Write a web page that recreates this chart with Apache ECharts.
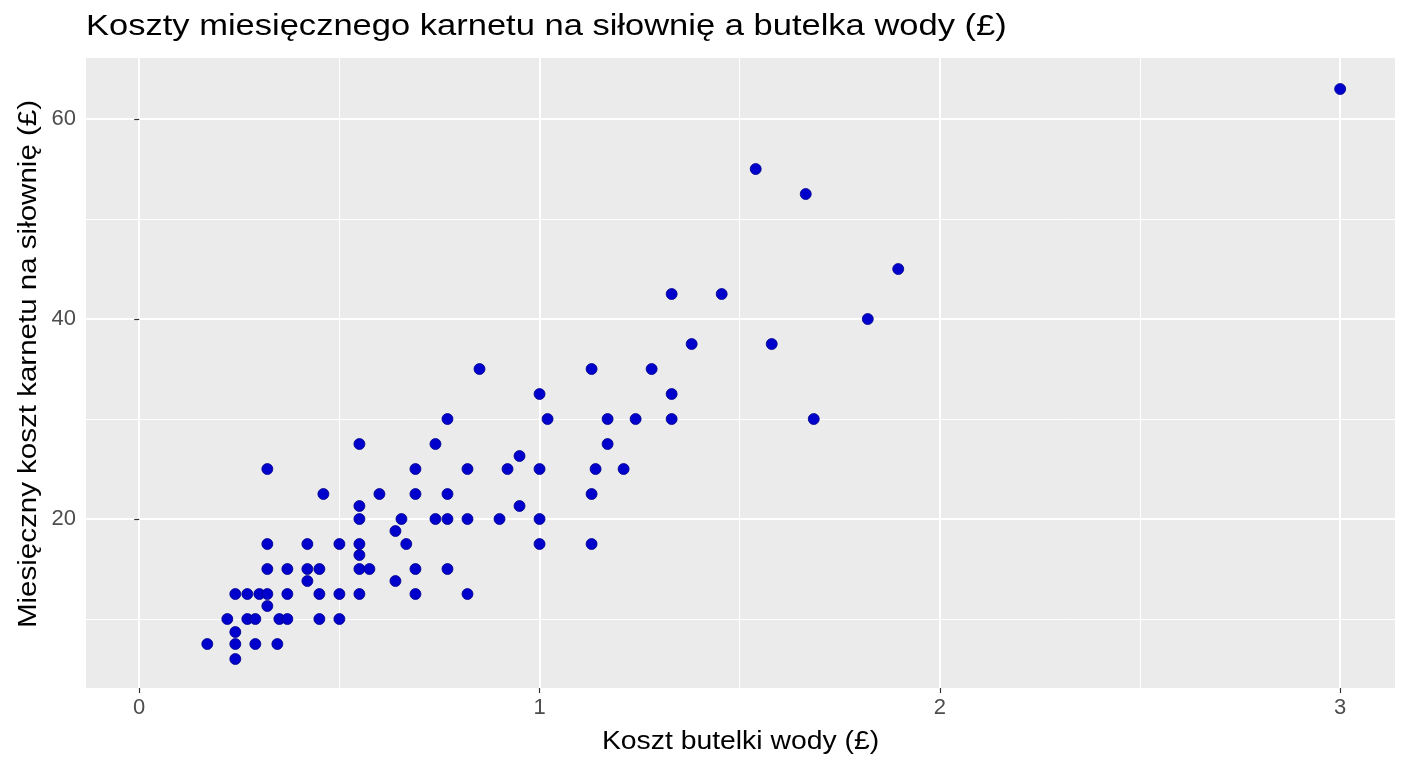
<!DOCTYPE html>
<html>
<head>
<meta charset="utf-8">
<script src="https://cdn.jsdelivr.net/npm/echarts@6/dist/echarts.min.js"></script>
<style>html,body{margin:0;padding:0;background:#fff;}#c{width:1408px;height:768px;}</style>
</head>
<body>
<div id="c"></div>
<script>
const titleText = 'Koszty miesięcznego karnetu na siłownię a butelka wody (£)';
const xName = 'Koszt butelki wody (£)';
const yName = 'Miesięczny koszt karnetu na siłownię (£)';
const xMajorTicks = [0, 1, 2, 3];
const xMinorTicks = [0.5, 1.5, 2.5];
const yMajorTicks = [20, 40, 60];
const yMinorTicks = [10, 30, 50];
const bottleCost = [
  0.17, 0.22, 0.24, 0.24, 0.24, 0.24, 0.27, 0.27, 0.30, 0.29,
  0.29, 0.32, 0.32, 0.32, 0.32, 0.32, 0.35, 0.345, 0.37, 0.37,
  0.37, 0.42, 0.42, 0.42, 0.45, 0.45, 0.45, 0.46, 0.50, 0.50,
  0.50, 0.55, 0.55, 0.55, 0.55, 0.55, 0.55, 0.55, 0.575, 0.60,
  0.64, 0.64, 0.655, 0.667, 0.69, 0.69, 0.69, 0.69, 0.74, 0.74,
  0.77, 0.77, 0.77, 0.77, 0.82, 0.82, 0.82, 0.85, 0.90, 0.92,
  0.95, 0.95, 1.00, 1.00, 1.00, 1.00, 1.02, 1.13, 1.13, 1.13,
  1.14, 1.17, 1.17, 1.21, 1.24, 1.28, 1.33, 1.33, 1.33, 1.38,
  1.455, 1.54, 1.58, 1.665, 1.685, 1.82, 1.896, 3.00
];
const gymCost = [
  7.5, 10, 12.5, 8.7, 7.5, 6.0, 12.5, 10, 12.5, 10,
  7.5, 12.5, 11.3, 15, 17.5, 25, 10, 7.5, 15, 12.5,
  10, 17.5, 15, 13.8, 15, 12.5, 10, 22.5, 17.5, 12.5,
  10, 27.5, 21.3, 20, 17.5, 16.4, 15, 12.5, 15, 22.5,
  18.8, 13.8, 20, 17.5, 25, 22.5, 15, 12.5, 27.5, 20,
  30, 22.5, 20, 15, 25, 20, 12.5, 35, 20, 25,
  26.3, 21.3, 32.5, 25, 20, 17.5, 30, 35, 22.5, 17.5,
  25, 30, 27.5, 25, 30, 35, 42.5, 32.5, 30, 37.5,
  42.5, 55, 37.5, 52.5, 30, 40, 45, 63
];
const points = bottleCost.map((x, i) => [x, gymCost[i]]);

const FONT = '"Liberation Sans", Arial, Helvetica, sans-serif';
const xMin = -0.133, xMax = 3.137, yMin = 3.1, yMax = 66.1;

const chart = echarts.init(document.getElementById('c'), null, {renderer: 'canvas'});
chart.setOption({
  animation: false,
  backgroundColor: '#ffffff',
  graphic: [
    {
      type: 'text', x: 86, y: 27, scaleX: 1.19, scaleY: 1,
      style: {text: titleText, x: 0, y: 0, align: 'left', verticalAlign: 'middle',
              font: '29px ' + FONT, fill: '#000'}
    },
    {
      type: 'text', x: 740.5, y: 742, scaleX: 1.09, scaleY: 1,
      style: {text: xName, x: 0, y: 0, align: 'center', verticalAlign: 'middle',
              font: '26px ' + FONT, fill: '#000'}
    },
    {
      type: 'text', x: 29, y: 364, rotation: Math.PI / 2, scaleX: 1.135, scaleY: 1,
      style: {text: yName, x: 0, y: 0, align: 'center', verticalAlign: 'middle',
              font: '26px ' + FONT, fill: '#000'}
    }
  ],
  grid: {
    left: 86, right: 13, top: 58, bottom: 80,
    show: true, backgroundColor: '#ebebeb', borderWidth: 0
  },
  xAxis: [
    {
      type: 'value', min: xMin, max: xMax, position: 'bottom',
      axisLine: {show: false},
      axisTick: {show: true, length: 5, customValues: xMajorTicks, lineStyle: {color: '#333', width: 1.2}},
      axisLabel: {customValues: xMajorTicks, fontFamily: FONT, fontSize: 22, color: '#4d4d4d', margin: 9},
      splitLine: {show: true, lineStyle: {color: '#ffffff', width: 2}}
    },
    {
      type: 'value', min: xMin, max: xMax, position: 'top',
      axisLine: {show: false},
      axisTick: {show: false, customValues: xMinorTicks},
      axisLabel: {show: false, customValues: xMinorTicks},
      splitLine: {show: true, lineStyle: {color: '#ffffff', width: 1}}
    }
  ],
  yAxis: [
    {
      type: 'value', min: yMin, max: yMax, position: 'left',
      axisLine: {show: false},
      axisTick: {show: true, length: 5, customValues: yMajorTicks, lineStyle: {color: '#333', width: 1.2}},
      axisLabel: {customValues: yMajorTicks, fontFamily: FONT, fontSize: 22, color: '#4d4d4d', margin: 10},
      splitLine: {show: true, lineStyle: {color: '#ffffff', width: 2}}
    },
    {
      type: 'value', min: yMin, max: yMax, position: 'right',
      axisLine: {show: false},
      axisTick: {show: false, customValues: yMinorTicks},
      axisLabel: {show: false, customValues: yMinorTicks},
      splitLine: {show: true, lineStyle: {color: '#ffffff', width: 1}}
    }
  ],
  series: [{
    type: 'scatter', xAxisIndex: 0, yAxisIndex: 0,
    data: points, symbol: 'circle', symbolSize: 11,
    itemStyle: {color: '#0000cd', borderColor: '#00008b', borderWidth: 0.8, opacity: 1}
  }]
});
</script>
</body>
</html>
